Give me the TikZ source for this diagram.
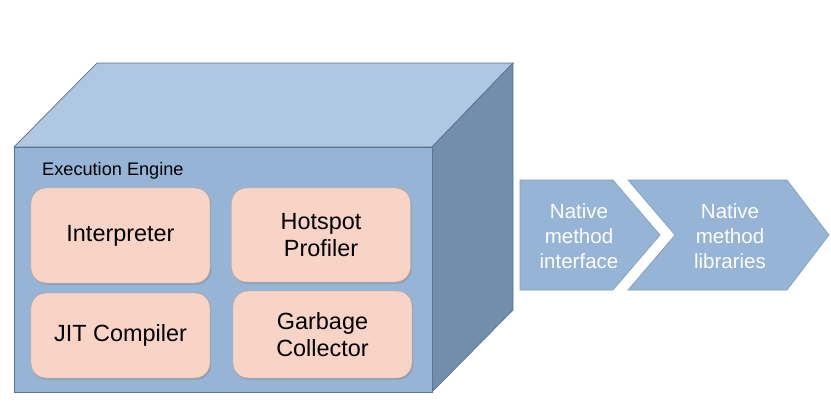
\documentclass[tikz,border=0pt]{standalone}
\usepackage{fontspec}
\setmainfont{Liberation Sans}
\usetikzlibrary{shadows}
\definecolor{topblue}{RGB}{175,199,226}
\definecolor{frontblue}{RGB}{150,180,214}
\definecolor{sideblue}{RGB}{114,142,172}
\definecolor{edgeblue}{RGB}{88,116,146}
\definecolor{boxfill}{RGB}{247,212,197}
\definecolor{boxline}{RGB}{196,160,142}
\definecolor{arrowline}{RGB}{125,155,188}

\begin{document}
\begin{tikzpicture}[x=0.03cm,y=-0.03cm,
	unit/.style={draw=boxline, fill=boxfill, rounded corners=0.45cm, minimum width=5.37cm, align=center,
		font=\fontsize{20}{23}\selectfont,
		drop shadow={opacity=0.35, shadow xshift=1pt, shadow yshift=-1.5pt}},
	chev/.style={draw=arrowline, fill=frontblue, line width=0.5pt},
	chevtext/.style={text=white, align=center, font=\fontsize{17.5}{21.3}\selectfont}]
	\useasboundingbox (0,0) rectangle (831,420);
	%the engine block
	\filldraw[fill=topblue, draw=edgeblue, line width=0.6pt] (14,147) -- (97,63) -- (513,63) -- (432,147) -- cycle;
	\filldraw[fill=sideblue, draw=edgeblue, line width=0.6pt] (432,147) -- (513,63) -- (513,310) -- (432,392) -- cycle;
	\filldraw[fill=frontblue, draw=edgeblue, line width=0.6pt] (14,147) rectangle (432,392);
	\node[anchor=base west, inner sep=0pt, font=\fontsize{15.5}{18}\selectfont] (engine) at (42,175) {Execution Engine};
	\node[unit, minimum height=2.85cm] (interp) at (120.5,235.5) {Interpreter};
	\node[unit, minimum height=2.82cm] (hotspot) at (321,235) {Hotspot\\Profiler};
	\node[unit, minimum height=2.55cm] (jit) at (120.5,335.5) {JIT Compiler};
	\node[unit, minimum height=2.61cm] (gc) at (322.5,334.5) {Garbage\\Collector};
	%native side
	\filldraw[chev] (520,180) -- (613,180) -- (660,235) -- (613,290) -- (520,290) -- cycle;
	\filldraw[chev] (628,180) -- (787,180) -- (829,235) -- (787,290) -- (628,290) -- (675,235) -- cycle;
	\node[chevtext] (nmi) at (579,236) {Native\\method\\interface};
	\node[chevtext] (nml) at (730,236) {Native\\method\\libraries};
\end{tikzpicture}
\end{document}
